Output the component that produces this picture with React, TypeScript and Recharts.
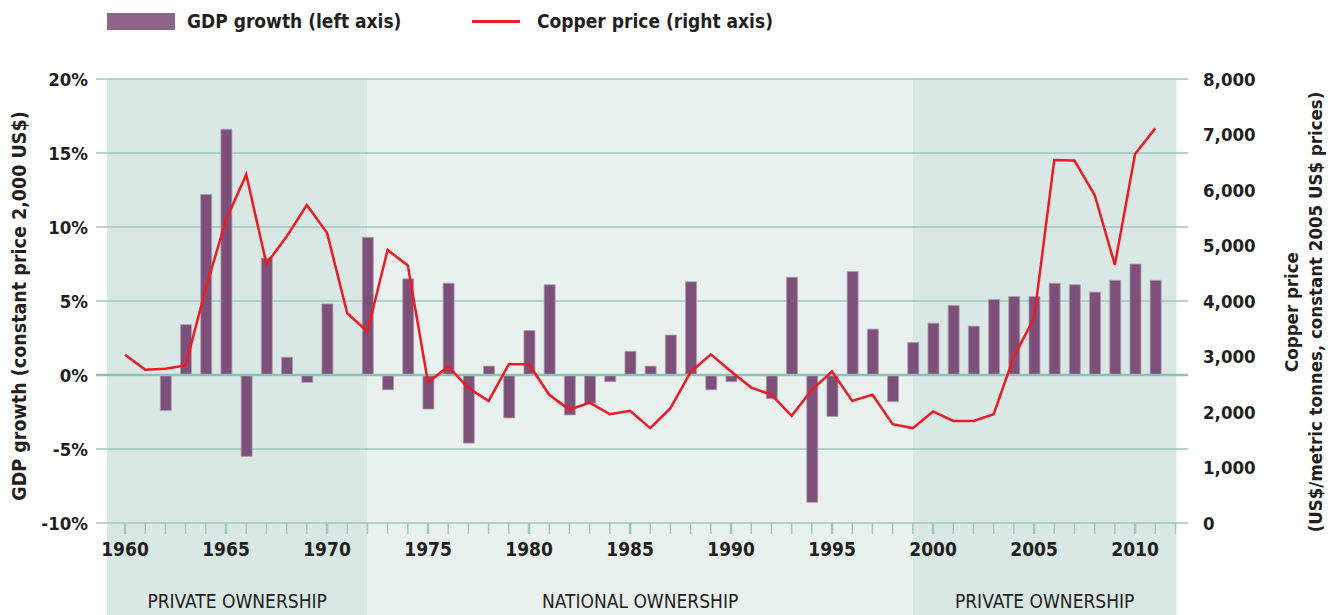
import { Bar, CartesianGrid, ComposedChart, Line, ReferenceArea, ReferenceLine, XAxis, YAxis } from 'recharts'

const years = [
  1960, 1961, 1962, 1963, 1964, 1965, 1966, 1967, 1968, 1969, 1970, 1971, 1972, 1973, 1974, 1975, 1976, 1977,
  1978, 1979, 1980, 1981, 1982, 1983, 1984, 1985, 1986, 1987, 1988, 1989, 1990, 1991, 1992, 1993, 1994, 1995,
  1996, 1997, 1998, 1999, 2000, 2001, 2002, 2003, 2004, 2005, 2006, 2007, 2008, 2009, 2010, 2011,
]

// % per year, null where no bar is drawn
const gdpGrowth = [
  null, null, -2.4, 3.4, 12.2, 16.6, -5.5, 7.9, 1.2, -0.5, 4.8, null, 9.3, -1.0, 6.5, -2.3, 6.2, -4.6,
  0.6, -2.9, 3.0, 6.1, -2.7, -1.9, -0.45, 1.6, 0.6, 2.7, 6.3, -1.0, -0.45, null, -1.6, 6.6, -8.6, -2.8,
  7.0, 3.1, -1.8, 2.2, 3.5, 4.7, 3.3, 5.1, 5.3, 5.3, 6.2, 6.1, 5.6, 6.4, 7.5, 6.4,
]

// US$/metric tonne, constant 2005 prices
const copperPrice = [
  3030, 2760, 2780, 2840, 4230, 5460, 6280, 4670, 5160, 5730, 5230, 3780, 3450, 4920, 4640, 2530, 2820, 2430,
  2200, 2860, 2860, 2310, 2040, 2170, 1960, 2020, 1710, 2070, 2720, 3040, 2730, 2440, 2310, 1930, 2400, 2730,
  2200, 2310, 1780, 1710, 2010, 1840, 1840, 1960, 3000, 3690, 6540, 6530, 5910, 4650, 6650, 7110,
]

const gdpTicks = [-10, -5, 0, 5, 10, 15, 20]
const copperTicks = [0, 1000, 2000, 3000, 4000, 5000, 6000, 7000, 8000]
const yearTicks = Array.from({ length: 53 }, (_, i) => 1960 + i)

const periods = [
  { label: 'PRIVATE OWNERSHIP', from: 1959.1, to: 1972, fill: '#d9e8e4' },
  { label: 'NATIONAL OWNERSHIP', from: 1972, to: 1999, fill: '#e8f1ee' },
  { label: 'PRIVATE OWNERSHIP', from: 1999, to: 2012.05, fill: '#d9e8e4' },
]

const data = years.map((year, i) => ({ year, gdp: gdpGrowth[i], copper: copperPrice[i] }))

const W = 1330
const H = 615
const FONT = "'DejaVu Sans Condensed', 'DejaVu Sans', sans-serif"
const INK = '#231f20'
const GRID = '#9dc8bf'
const PURPLE = '#7d5079'
const RED = '#ed1c24'

function PeriodShape(props: any) {
  const { x, y, width, fill, label } = props
  return (
    <g>
      <rect x={x} y={y} width={width} height={H - y} fill={fill} />
      <text x={x + width / 2} y={608} textAnchor="middle" fontFamily={FONT} fontSize={19} fill={INK} style={{ fontStretch: 'condensed' }}>
        {label}
      </text>
    </g>
  )
}

function YearTick(props: any) {
  const { x, y, payload } = props
  const major = payload.value % 5 === 0
  return (
    <g>
      <line x1={x} x2={x} y1={y - 16} y2={y - 5} stroke={GRID} strokeWidth={major ? 2.5 : 1.5} />
      {major && payload.value <= 2010 && (
        <text x={x} y={y + 17} textAnchor="middle" fontFamily={FONT} fontSize={19} fontWeight="bold" fill={INK}
          style={{ fontStretch: 'condensed' }}>
          {payload.value}
        </text>
      )}
    </g>
  )
}

function LeftTitle(props: any) {
  const vb = props.viewBox
  const cx = vb.x + 19
  const cy = 306
  return (
    <text x={cx} y={cy} transform={`rotate(-90 ${cx} ${cy})`} textAnchor="middle" dominantBaseline="central"
      fontFamily={FONT} fontSize={19.5} fontWeight="bold" fill={INK} style={{ fontStretch: 'condensed' }}>
      GDP growth (constant price 2,000 US$)
    </text>
  )
}

function RightTitle() {
  const cy = 312
  return (
    <g fontFamily={FONT} fontSize={18.5} fontWeight="bold" fill={INK} style={{ fontStretch: 'condensed' }}>
      <text x={1291} y={cy} transform={`rotate(-90 1291 ${cy})`} textAnchor="middle" dominantBaseline="central">
        Copper price
      </text>
      <text x={1315} y={cy} transform={`rotate(-90 1315 ${cy})`} textAnchor="middle" dominantBaseline="central">
        (US$/metric tonnes, constant 2005 US$ prices)
      </text>
    </g>
  )
}

function ChartLegend() {
  const text = { position: 'absolute' as const, top: 8, fontFamily: FONT, fontStretch: 'condensed', fontWeight: 'bold' as const, fontSize: 19, color: INK, lineHeight: '26px' }
  return (
    <>
      <div style={{ position: 'absolute', left: 107, top: 13, width: 68, height: 17, background: '#8c6688' }} />
      <div style={{ ...text, left: 187 }}>GDP growth (left axis)</div>
      <div style={{ position: 'absolute', left: 472, top: 20, width: 48, height: 3, background: RED }} />
      <div style={{ ...text, left: 537 }}>Copper price (right axis)</div>
    </>
  )
}

export default function App() {
  const tickStyle = { fontFamily: FONT, fontSize: 18.5, fontWeight: 'bold', fill: INK, fontStretch: 'condensed' }
  return (
    <div style={{ position: 'absolute', left: 0, top: 0, width: W, height: H, background: '#fff' }}>
      <ChartLegend />
      <ComposedChart width={W} height={H} data={data} margin={{ top: 79, right: 0, bottom: 0, left: 0 }}>
        {periods.map((p, i) => (
          <ReferenceArea key={i} yAxisId="gdp" x1={p.from} x2={p.to} y1={-10} y2={20} ifOverflow="visible"
            zIndex={-200} shape={(s: any) => <PeriodShape {...s} fill={p.fill} label={p.label} />} />
        ))}
        <CartesianGrid yAxisId="gdp" vertical={false} stroke={GRID} strokeWidth={1.5} />
        <XAxis dataKey="year" type="number" domain={[1958.564, 2012.62]} ticks={yearTicks} interval={0}
          height={92} axisLine={false} tickLine={false} tickSize={10} tickMargin={6}
          tick={<YearTick />} allowDataOverflow />
        <YAxis yAxisId="gdp" domain={[-10, 20]} ticks={gdpTicks} width={96} axisLine={false} tickLine={false}
          tickMargin={2} tickFormatter={(v) => `${v}%`} tick={tickStyle} label={{ content: LeftTitle }} />
        <YAxis yAxisId="cu" orientation="right" domain={[0, 8000]} ticks={copperTicks} width={142} axisLine={false}
          tickLine={false} tickMargin={9} tickFormatter={(v) => v.toLocaleString('en-US')} tick={tickStyle}
          label={{ content: RightTitle }} />
        <ReferenceLine yAxisId="gdp" y={0} stroke="#8fbfb5" strokeWidth={2.5} />
        <Bar yAxisId="gdp" dataKey="gdp" barSize={11} fill={PURPLE} stroke="#b39ab0" strokeWidth={0.8} isAnimationActive={false} />
        <Line yAxisId="cu" dataKey="copper" type="linear" stroke={RED} strokeWidth={2.5} dot={false} isAnimationActive={false} />
      </ComposedChart>
    </div>
  )
}
